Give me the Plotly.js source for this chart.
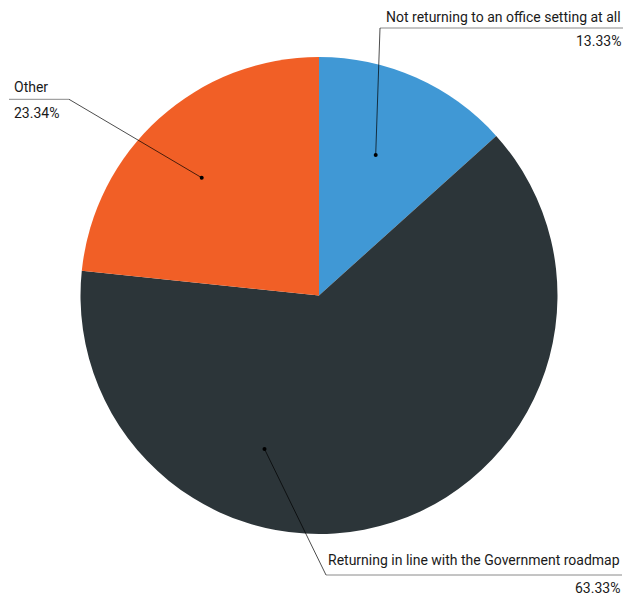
<!DOCTYPE html>
<html>
<head>
<meta charset="utf-8">
<script src="https://cdn.plot.ly/plotly-3.0.1.min.js"></script>
<style>html,body{margin:0;padding:0;background:#fff}#chart{width:627px;height:596px}</style>
</head>
<body>
<div id="chart"></div>
<script>
// Data
const categories = ["Not returning to an office setting at all", "Returning in line with the Government roadmap", "Other"];
const values = [13.33, 63.33, 23.34];
const valueLabels = ["13.33%", "63.33%", "23.34%"];
const colors = ["#4098d5", "#2c3539", "#f15f26"];

// Label layout (pixels): dot inside slice, elbow of leader, end of underline, text side
const W = 627, H = 596;
const labelLayout = [
  {dot: [375.7, 155], elbow: [380, 28], end: [623, 28], nameY: 17, valY: 41, side: "right", tx: 623},
  {dot: [264.5, 449], elbow: [326, 575], end: [622, 575], nameY: 560, valY: 588, side: "right", tx: 622},
  {dot: [201.7, 177.7], elbow: [69, 99.3], end: [9, 99.3], nameY: 87, valY: 113, side: "left", tx: 12}
];
const px = x => x / W;
const py = y => 1 - y / H;

const shapes = [];
const annotations = [];
labelLayout.forEach((L, i) => {
  shapes.push({
    type: "line", xref: "paper", yref: "paper", layer: "above",
    x0: px(L.elbow[0]), y0: py(L.elbow[1]), x1: px(L.end[0]), y1: py(L.end[1]),
    line: {color: "#8a8a8a", width: 1}
  });
  shapes.push({
    type: "line", xref: "paper", yref: "paper", layer: "above",
    x0: px(L.dot[0]), y0: py(L.dot[1]), x1: px(L.elbow[0]), y1: py(L.elbow[1]),
    line: {color: "#000", width: 0.7}
  });
  const r = 2;
  shapes.push({
    type: "circle", xref: "paper", yref: "paper", layer: "above",
    x0: px(L.dot[0] - r), x1: px(L.dot[0] + r), y0: py(L.dot[1] + r), y1: py(L.dot[1] - r),
    fillcolor: "#000", line: {width: 0}
  });
  annotations.push({
    xref: "paper", yref: "paper", x: px(L.tx), y: py(L.nameY),
    xanchor: L.side, yanchor: "middle", showarrow: false,
    text: categories[i], font: {family: "Roboto", size: 14, color: "#1a1a1a"}
  });
  annotations.push({
    xref: "paper", yref: "paper", x: px(L.tx), y: py(L.valY),
    xanchor: L.side, yanchor: "middle", showarrow: false,
    text: valueLabels[i], font: {family: "Roboto", size: 14, color: "#1a1a1a"}
  });
});

const trace = {
  type: "pie",
  labels: categories,
  values: values,
  sort: false,
  direction: "clockwise",
  rotation: 0,
  marker: {colors: colors, line: {width: 0}},
  textinfo: "none",
  hoverinfo: "none",
  showlegend: false,
  domain: {x: [80 / W, 558 / W], y: [1 - 534 / H, 1 - 57 / H]}
};

Plotly.newPlot("chart", [trace], {
  width: W, height: H,
  margin: {l: 0, r: 0, t: 0, b: 0},
  paper_bgcolor: "#fff",
  shapes: shapes,
  annotations: annotations,
  font: {family: "Roboto"}
}, {displayModeBar: false, staticPlot: true});
</script>
</body>
</html>
